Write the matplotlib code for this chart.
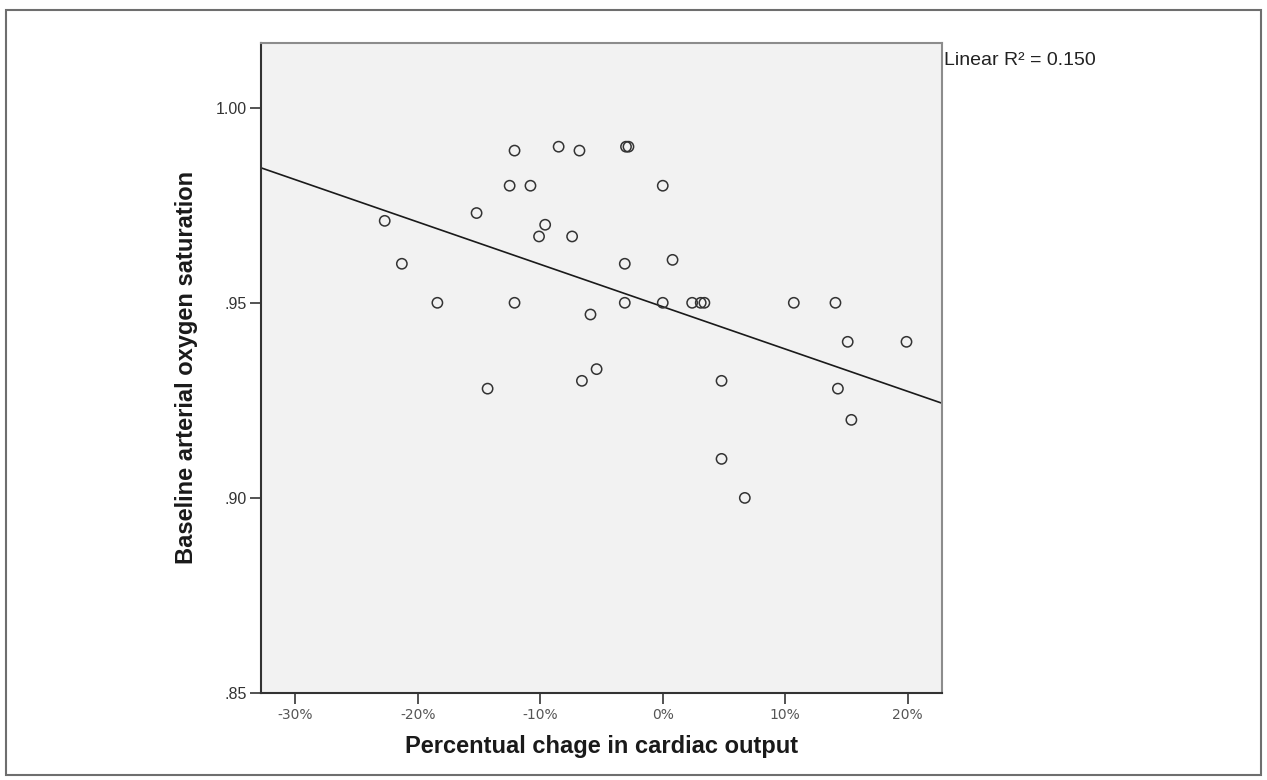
"""Scatter of baseline SaO2 vs. percentual change in cardiac output, with linear fit."""
import matplotlib
matplotlib.use("Agg")
import matplotlib.pyplot as plt
import numpy as np
from matplotlib.patches import Rectangle
from matplotlib.ticker import FuncFormatter

plt.rcParams["font.family"] = ["Liberation Sans", "DejaVu Sans"]

# values (x in %, y as fraction)
change_co = [
    -22.7, -21.3, -18.4, -15.2, -14.3, -12.5, -12.1, -12.1, -10.8, -10.1,
    -9.6, -8.5, -7.4, -6.8, -6.6, -5.9, -5.4, -3.0, -2.8, -3.1,
    -3.1, 0.0, 0.0, 0.8, 2.4, 3.1, 3.4, 4.8, 4.8, 10.7,
    14.1, 14.3, 15.1, 15.4, 19.9, 6.7,
]
sao2 = [
    0.971, 0.960, 0.950, 0.973, 0.928, 0.980, 0.989, 0.950, 0.980, 0.967,
    0.970, 0.990, 0.967, 0.989, 0.930, 0.947, 0.933, 0.990, 0.990, 0.960,
    0.950, 0.980, 0.950, 0.961, 0.950, 0.950, 0.950, 0.930, 0.910, 0.950,
    0.950, 0.928, 0.940, 0.920, 0.940, 0.900,
]
# linear fit as drawn in the reference (per 1 % change)
fit_slope = -0.001085
fit_intercept = 0.9490
r2_label = "Linear R\u00b2 = 0.150"

x_ticks = [-30, -20, -10, 0, 10, 20]
y_ticks = [0.85, 0.90, 0.95, 1.00]
y_tick_labels = [".85", ".90", ".95", "1.00"]

fig = plt.figure(figsize=(12.67, 7.8), dpi=100)
ax = fig.add_axes([0.206, 0.1115, 0.5375, 0.834])
ax.set_facecolor("#f2f2f2")

xlim = (-32.8, 22.8)
ax.set_xlim(xlim)
ax.set_ylim(0.85, 1.0167)

xs = np.array(xlim)
ax.plot(xs, fit_intercept + fit_slope * xs, color="#1a1a1a", linewidth=1.2, zorder=2)
ax.scatter(change_co, sao2, s=55, facecolors="none", edgecolors="#333333",
           linewidths=1.1, zorder=3)

ax.set_xticks(x_ticks)
ax.xaxis.set_major_formatter(FuncFormatter(lambda v, _: f"{v:.0f}%"))
ax.set_yticks(y_ticks)
ax.set_yticklabels(y_tick_labels)
for lab in ax.get_xticklabels():
    lab.set_fontfamily("DejaVu Sans")
    lab.set_fontsize(10)
    lab.set_color("#555555")
for lab in ax.get_yticklabels():
    lab.set_fontsize(11.5)
    lab.set_color("#333333")
ax.tick_params(axis="both", direction="out", length=8, width=1.3, color="#444444")
ax.tick_params(axis="x", pad=3)
ax.tick_params(axis="y", pad=2)

for side in ("left", "bottom"):
    ax.spines[side].set_color("#333333")
    ax.spines[side].set_linewidth(1.5)
for side in ("top", "right"):
    ax.spines[side].set_color("#8c8c8c")
    ax.spines[side].set_linewidth(1.5)

ax.set_xlabel("Percentual chage in cardiac output", fontsize=17, fontweight="bold",
              color="#1a1a1a", labelpad=9)
ax.set_ylabel("Baseline arterial oxygen saturation", fontsize=17, fontweight="bold",
              color="#1a1a1a", labelpad=13)

ax.text(1.003, 0.985, r2_label, transform=ax.transAxes, fontsize=14,
        color="#222222", va="top", ha="left")

# outer frame around the whole figure
fig.patches.append(Rectangle((6 / 1267, 5 / 780), 1255 / 1267, 765 / 780,
                             transform=fig.transFigure, fill=False,
                             edgecolor="#6e6e6e", linewidth=1.5))

fig.savefig("out.png", dpi=100)
